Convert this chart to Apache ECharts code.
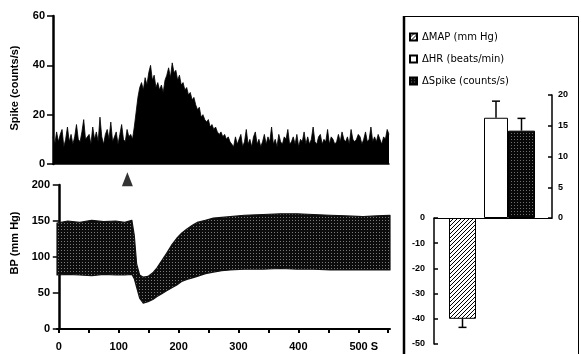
<!DOCTYPE html>
<html><head><meta charset="utf-8">
<script src="https://cdn.jsdelivr.net/npm/echarts@6/dist/echarts.min.js"></script>
<style>html,body{margin:0;padding:0;background:#fff}#c{width:581px;height:354px}</style>
</head><body><div id="c"></div>
<script>
// ---------- DATA ----------
// Spike histogram (counts/s), 3-s bins starting at -10 s
const spikeBinStart = -10;
const spikeBinWidth = 3;
const spikeBaselinePre = [11,8,13,9,12,14,7,10,15,9,12,8,11,16,10,9,13,18,10,11,12,8,15,10,13,9,19,11,8,12,14,10,17,9,11,13,8,12,16,10,9,14,11,12,10];
const spikeRise = [15,21,27,31];
const spikePeak = [33,30,35,32,37,40,34,36,31,33,30,32,29,34,36,39,35,41,37,38,34,36,32,33];
const spikeDecay = [30,31,28,29,26,27,24,22,23,19,20,18,17,18,15,16,14,15,13,12,13,11,12,10,11,9];
const spikeBaselinePost = [9,7,11,8,10,12,7,9,14,8,10,7,11,13,8,10,7,9,12,8,11,9,15,8,10,7,12,9,8,11,10,14,8,9,11,8,12,7,10,9,13,8,11,8,10,15,9,8,11,12,8,10,9,14,8,11,10,8,9,12,9,13,10,9,11,8,14,10,9,10,12,11,8,10,13,9,10,15,9,11,9,12,10,8,11,10,14,12];

// Blood pressure envelope (mm Hg)
const bpTime  = [-3,15,35,55,75,95,110,122,126,130,135,141,149,157,164,172,180,188,197,205,214,223,231,245,258,272,286,310,341,370,398,425,453,480,508,530,553];
const bpUpper = [147,150,148,151,149,150,148,151,130,90,75,72,73,78,85,95,105,116,126,133,139,144,148,151,154,155,156,158,159,160,160,159,158,157,156,157,158];
const bpLower = [75,76,75,74,76,75,75,76,70,58,43,36,38,41,45,49,53,57,61,66,69,71,73,77,79,81,82,83,83,84,83,83,82,82,82,82,82];
const stimulusTime = 114.5;
const stimulusLevel = 208;

// Tick values
const timeTicks = [0,50,100,150,200,250,300,350,400,450,500,550];
const timeLabels = [0,100,200,300,400,500];

// Bar panel
const mapName = 'ΔMAP (mm Hg)', hrName = 'ΔHR (beats/min)', spikeName = 'ΔSpike (counts/s)';
const mapMean = -40, mapErr = 3.4;
const hrMean = 16.3, hrErr = 2.7;
const spikeMean = 14.2, spikeErr = 2.0;

// ---------- STYLE ----------
const mapBarW = 27, hrBarW = 24, spikeBarW = 27;
function makePattern(size, draw){
  const c = document.createElement('canvas'); c.width = c.height = size;
  const ctx = c.getContext('2d'); draw(ctx, size); return {image: c, repeat: 'repeat'};
}
const bpPattern = makePattern(3, (ctx)=>{ctx.fillStyle='#0c0c0c';ctx.fillRect(0,0,3,3);ctx.fillStyle='#7a7a7a';ctx.fillRect(1,1,1,1);});
const hatchPattern = makePattern(4, (ctx,s)=>{ctx.fillStyle='#fff';ctx.fillRect(0,0,s,s);ctx.strokeStyle='#000';ctx.lineWidth=1;
  ctx.beginPath();ctx.moveTo(0,s);ctx.lineTo(s,0);ctx.moveTo(-1,1);ctx.lineTo(1,-1);ctx.moveTo(s-1,s+1);ctx.lineTo(s+1,s-1);ctx.stroke();});
const stipplePattern = makePattern(3, (ctx)=>{ctx.fillStyle='#080808';ctx.fillRect(0,0,3,3);ctx.fillStyle='#6e6e6e';ctx.fillRect(1,1,1,1);});

const spikeCounts = [].concat(spikeBaselinePre, spikeRise, spikePeak, spikeDecay, spikeBaselinePost);
const spikeBins = spikeCounts.map((_, i) => String(spikeBinStart + i * spikeBinWidth));

const lblBold = {color:'#000', fontFamily:'Liberation Sans', fontWeight:'bold', fontSize:11};
const lblSmall = {color:'#000', fontFamily:'Liberation Sans Narrow, Liberation Sans', fontWeight:'bold', fontSize:9};

function errRender(offsets){
  return function(params, api){
    const idx = params.dataIndex;
    const cat = api.value(0), v = api.value(1), e = api.value(2);
    const p0 = api.coord([cat, v]);
    const p1 = api.coord([cat, v + Math.sign(v) * e]);
    const x = p0[0] + offsets[idx];
    return {type:'group', children:[
      {type:'line', shape:{x1:x, y1:p0[1], x2:x, y2:p1[1]}, style:{stroke:'#000', lineWidth:1.5}},
      {type:'line', shape:{x1:x-4, y1:p1[1], x2:x+4, y2:p1[1]}, style:{stroke:'#000', lineWidth:1.5}}
    ]};
  };
}
// BP band drawn as one polygon through the axis scales
function bandRender(params, api){
  if (params.dataIndex !== 0) return null;
  const pts = [];
  for (let i = 0; i < bpTime.length; i++) pts.push(api.coord([bpTime[i], bpUpper[i]]));
  for (let i = bpTime.length - 1; i >= 0; i--) pts.push(api.coord([bpTime[i], bpLower[i]]));
  return {type:'polygon', shape:{points:pts}, style:{fill:bpPattern, stroke:'#111', lineWidth:1.2, lineJoin:'round'}};
}
const pairW = hrBarW + spikeBarW;

const chart = echarts.init(document.getElementById('c'), null, {renderer:'canvas'});
chart.setOption({
  animation:false,
  backgroundColor:'#fff',
  grid:[
    {left:53, top:16, width:336, height:148},
    {left:57, top:185, width:333, height:144},
    {left:434, top:218, width:57, height:126},
    {left:467, top:95, width:85, height:123}
  ],
  xAxis:[
    {gridIndex:0, type:'category', data:spikeBins, boundaryGap:false,
     axisLine:{lineStyle:{color:'#000', width:1.5}}, axisTick:{show:false}, axisLabel:{show:false}},
    {gridIndex:1, type:'value', min:-3, max:553,
     axisLine:{onZero:false, lineStyle:{color:'#000', width:2}},
     axisTick:{show:true, customValues:timeTicks, length:4, lineStyle:{color:'#000', width:2}},
     axisLabel:Object.assign({customValues:timeLabels, margin:12,
       formatter:(v)=> v===500 ? '{s|500 S}' : String(v),
       rich:{s:Object.assign({}, lblBold, {padding:[0,0,0,11]})}}, lblBold),
     splitLine:{show:false}},
    {gridIndex:2, type:'category', data:['ΔMAP'], position:'top',
     axisLine:{lineStyle:{color:'#000', width:1}}, axisTick:{show:false}, axisLabel:{show:false}},
    {gridIndex:3, type:'category', data:['ΔHR/ΔSpike'], position:'bottom',
     axisLine:{lineStyle:{color:'#000', width:1}}, axisTick:{show:false}, axisLabel:{show:false}}
  ],
  yAxis:[
    {gridIndex:0, type:'value', min:0, max:60, interval:20,
     axisLine:{show:true, lineStyle:{color:'#000', width:2.5}},
     axisTick:{show:true, length:6, lineStyle:{color:'#000', width:1.5}},
     axisLabel:Object.assign({margin:8}, lblBold), splitLine:{show:false}},
    {gridIndex:1, type:'value', min:0, max:200, interval:50,
     axisLine:{show:true, lineStyle:{color:'#000', width:2.5}},
     axisTick:{show:true, length:6, lineStyle:{color:'#000', width:1.5}},
     axisLabel:Object.assign({margin:7}, lblBold), splitLine:{show:false}},
    {gridIndex:2, type:'value', min:-50, max:0, interval:10,
     axisLine:{show:true, lineStyle:{color:'#000', width:1.5}},
     axisTick:{show:true, inside:true, length:4, lineStyle:{color:'#000', width:1.5}},
     axisLabel:Object.assign({margin:9}, lblSmall), splitLine:{show:false}},
    {gridIndex:3, type:'value', position:'right', min:0, max:20, interval:5,
     axisLine:{show:true, lineStyle:{color:'#000', width:1.5}},
     axisTick:{show:true, inside:true, length:4, lineStyle:{color:'#000', width:1.5}},
     axisLabel:Object.assign({margin:6}, lblSmall), splitLine:{show:false}}
  ],
  legend:{
    data:[mapName, hrName, spikeName], orient:'vertical', left:404, top:27,
    itemWidth:7, itemHeight:7, itemGap:12, icon:'rect', selectedMode:false,
    textStyle:{fontFamily:'DejaVu Sans', fontSize:10, color:'#000'}
  },
  series:[
    {type:'line', xAxisIndex:0, yAxisIndex:0, data:spikeCounts, symbol:'none', silent:true,
     lineStyle:{color:'#000', width:0.8}, areaStyle:{color:'#000', opacity:1}},
    {type:'custom', xAxisIndex:1, yAxisIndex:1, silent:true,
     data:bpTime.map((t,i)=>[t, bpLower[i], bpUpper[i]]), renderItem:bandRender},
    {type:'scatter', xAxisIndex:1, yAxisIndex:1, clip:false, symbol:'triangle', symbolSize:[11,14],
     itemStyle:{color:'#000'}, data:[[stimulusTime, stimulusLevel]], silent:true, z:10},
    {type:'bar', name:mapName, xAxisIndex:2, yAxisIndex:2, data:[mapMean], barWidth:mapBarW,
     itemStyle:{color:hatchPattern, borderColor:'#000', borderWidth:1}},
    {type:'custom', xAxisIndex:2, yAxisIndex:2, data:[[0, mapMean, mapErr]], renderItem:errRender([0]), silent:true, z:5},
    {type:'bar', name:hrName, xAxisIndex:3, yAxisIndex:3, data:[hrMean], barWidth:hrBarW, barGap:'0%',
     itemStyle:{color:'#fff', borderColor:'#000', borderWidth:1}},
    {type:'bar', name:spikeName, xAxisIndex:3, yAxisIndex:3, data:[spikeMean], barWidth:spikeBarW, barGap:'0%',
     itemStyle:{color:stipplePattern, borderColor:'#000', borderWidth:1}},
    {type:'custom', xAxisIndex:3, yAxisIndex:3, data:[[0, hrMean, hrErr],[0, spikeMean, spikeErr]],
     renderItem:errRender([-pairW/2 + hrBarW/2, -pairW/2 + hrBarW + spikeBarW/2]), silent:true, z:5}
  ],
  graphic:[
    {type:'rect', shape:{x:404.5, y:16.5, width:174, height:360}, style:{fill:'none', stroke:'#000', lineWidth:1}, silent:true},
    {type:'line', shape:{x1:404, y1:16, x2:404, y2:354}, style:{stroke:'#000', lineWidth:2.5}, silent:true},
    {type:'text', x:15, y:88, rotation:Math.PI/2, silent:true,
     style:{text:'Spike (counts/s)', fill:'#000', font:'bold 11px "Liberation Sans"', textAlign:'center', textVerticalAlign:'middle', align:'center', verticalAlign:'middle'}},
    {type:'text', x:15, y:243, rotation:Math.PI/2, silent:true,
     style:{text:'BP (mm Hg)', fill:'#000', font:'bold 11px "Liberation Sans"', textAlign:'center', textVerticalAlign:'middle', align:'center', verticalAlign:'middle'}}
  ]
});
</script></body></html>
